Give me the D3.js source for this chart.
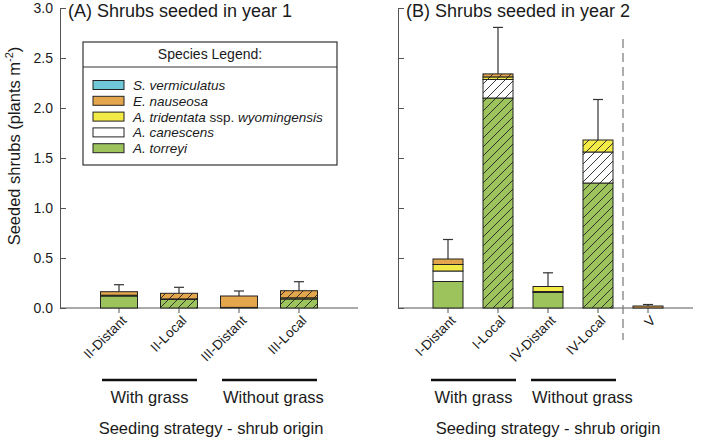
<!DOCTYPE html>
<html><head><meta charset="utf-8">
<script src="https://cdn.jsdelivr.net/npm/d3@7"></script>
<style>
body{margin:0;background:#fff}
text{font-family:"Liberation Sans",Arial,sans-serif;fill:#1a1a1a}
</style></head>
<body><svg id="c" width="701" height="442"></svg>
<script>
// ---- data ----
const speciesNames = ["S. vermiculatus","E. nauseosa","A. tridentata ssp. wyomingensis","A. canescens","A. torreyi"];
const speciesKeys  = ["verm","naus","trid","cane","torr"];
const speciesColors = ["#6ec8d8","#e3a64c","#f2ea45","#ffffff","#9cc35c"];
const stackOrder = ["torr","cane","trid","naus","verm"]; // bottom -> top

const cats1 = ["II-Distant","II-Local","III-Distant","III-Local"];
const torr1 = [0.12, 0.085, 0.006, 0.09];
const cane1 = [0, 0, 0, 0];
const trid1 = [0.008, 0.006, 0, 0.012];
const naus1 = [0.035, 0.056, 0.114, 0.071];
const verm1 = [0, 0, 0, 0];
const err1  = [0.07, 0.06, 0.05, 0.09];
const local1 = [false, true, false, true];

const cats2 = ["I-Distant","I-Local","IV-Distant","IV-Local","V"];
const torr2 = [0.265, 2.10, 0.155, 1.25, 0];
const cane2 = [0.105, 0.185, 0.01, 0.31, 0];
const trid2 = [0.065, 0.026, 0.05, 0.12, 0];
const naus2 = [0.055, 0.03, 0, 0, 0.02];
const verm2 = [0, 0, 0, 0, 0];
const err2  = [0.195, 0.465, 0.137, 0.405, 0.015];
const local2 = [false, true, false, true, false];

const yTicks = [0, 0.5, 1.0, 1.5, 2.0, 2.5, 3.0];
const groupNames = ["With grass","Without grass"];

// ---- chart ----
const svg = d3.select("#c");
const y = d3.scaleLinear().domain([0,3]).range([308,8]);

// hatch patterns
const defs = svg.append("defs");
speciesKeys.forEach((k,i)=>{
  const p = defs.append("pattern").attr("id","h-"+k).attr("patternUnits","userSpaceOnUse")
    .attr("width",9).attr("height",9);
  p.append("rect").attr("width",9).attr("height",9).attr("fill",speciesColors[i]);
  p.append("path").attr("d","M-2,2L2,-2M0,9L9,0M7,11L11,7").attr("stroke","#222").attr("stroke-width",0.9);
});
const colorOf = k => speciesColors[speciesKeys.indexOf(k)];

function panel(cfg){
  const g = svg.append("g");
  const rows = cfg.cats.map((c,i)=>({cat:c, torr:cfg.torr[i], cane:cfg.cane[i], trid:cfg.trid[i], naus:cfg.naus[i], verm:cfg.verm[i], err:cfg.err[i], local:cfg.local[i]}));
  const x = d3.scalePoint().domain(cfg.cats).range(cfg.centers);
  const bw = cfg.bw;
  const stacked = d3.stack().keys(stackOrder)(rows);

  // y axis
  const ax = g.append("g").attr("transform",`translate(${cfg.axisX},0)`)
    .call(d3.axisLeft(y).tickValues(yTicks).tickFormat(cfg.yLabels ? d3.format(".1f") : "")
      .tickSizeInner(-6).tickSizeOuter(0).tickPadding(7));
  ax.selectAll("path,line").attr("stroke","#555").attr("stroke-width",1);
  ax.selectAll("text").attr("font-size",14).attr("fill","#222").style("font-family",'"Liberation Sans",Arial,sans-serif');

  // baseline
  g.append("line").attr("x1",cfg.axisX).attr("x2",cfg.axisEnd).attr("y1",y(0)).attr("y2",y(0))
    .attr("stroke","#555").attr("stroke-width",1);
  // x ticks
  g.selectAll(".xt").data(cfg.cats).enter().append("line")
    .attr("x1",d=>x(d)).attr("x2",d=>x(d)).attr("y1",y(0)).attr("y2",y(0)+5)
    .attr("stroke","#555");
  // x labels
  g.selectAll(".xl").data(cfg.cats).enter().append("text")
    .attr("transform",d=>`translate(${x(d)+5},${y(0)+10}) rotate(-45)`)
    .attr("text-anchor","end").attr("dy","0.35em").attr("font-size",13.5).attr("fill","#222")
    .text(d=>d);

  // error bars (drawn before bars)
  rows.forEach(r=>{
    const tot = r.torr+r.cane+r.trid+r.naus+r.verm;
    const cx = x(r.cat);
    g.append("line").attr("x1",cx).attr("x2",cx).attr("y1",y(tot)).attr("y2",y(tot+r.err)).attr("stroke","#333").attr("stroke-width",1.2);
    g.append("line").attr("x1",cx-5).attr("x2",cx+5).attr("y1",y(tot+r.err)).attr("y2",y(tot+r.err)).attr("stroke","#333").attr("stroke-width",1.2);
  });

  // stacked bars
  stacked.forEach(layer=>{
    const k = layer.key;
    g.selectAll(".s-"+k).data(layer.filter(d=>d[1]-d[0]>0)).enter().append("rect")
      .attr("x",d=>x(d.data.cat)-bw/2).attr("width",bw)
      .attr("y",d=>y(d[1])).attr("height",d=>y(d[0])-y(d[1]))
      .attr("fill",d=>d.data.local ? `url(#h-${k})` : colorOf(k))
      .attr("stroke","#222").attr("stroke-width",1);
  });

  // title
  g.append("text").attr("x",cfg.axisX+8).attr("y",17).attr("font-size",18).attr("fill","#111").text(cfg.title);

  // groups
  cfg.groups.forEach((grp,gi)=>{
    const x1 = x(grp[0])-17, x2 = x(grp[grp.length-1])+18;
    g.append("line").attr("x1",x1).attr("x2",x2).attr("y1",380).attr("y2",380).attr("stroke","#111").attr("stroke-width",2.5);
    const t = g.append("text").attr("y",403).attr("font-size",16.5).attr("fill","#111").text(groupNames[gi]);
    if(gi===0) t.attr("x",(x1+x2)/2).attr("text-anchor","middle");
    else t.attr("x",x1+1).attr("text-anchor","start");
  });
  g.append("text").attr("x",cfg.xTitleX).attr("y",434).attr("text-anchor","middle").attr("font-size",16.5).attr("fill","#111")
    .text("Seeding strategy - shrub origin");

  if(cfg.sep){
    const sx = (x(cfg.cats[cfg.cats.length-2])+x(cfg.cats[cfg.cats.length-1]))/2;
    g.append("line").attr("x1",sx).attr("x2",sx).attr("y1",39).attr("y2",340)
      .attr("stroke","#777").attr("stroke-width",1.2).attr("stroke-dasharray","9,5");
  }
  return g;
}

panel({cats:cats1, torr:torr1, cane:cane1, trid:trid1, naus:naus1, verm:verm1, err:err1, local:local1,
  centers:[119,299], bw:37, axisX:60, axisEnd:358, yLabels:true, title:"(A) Shrubs seeded in year 1",
  groups:[["II-Distant","II-Local"],["III-Distant","III-Local"]], xTitleX:211, sep:false});
panel({cats:cats2, torr:torr2, cane:cane2, trid:trid2, naus:naus2, verm:verm2, err:err2, local:local2,
  centers:[448,648], bw:30, axisX:398, axisEnd:693, yLabels:false, title:"(B) Shrubs seeded in year 2",
  groups:[["I-Distant","I-Local"],["IV-Distant","IV-Local"]], xTitleX:548, sep:true});

// y axis title
const yt = svg.append("text").attr("transform","translate(20,146) rotate(-90)").attr("text-anchor","middle")
  .attr("font-size",16.5).attr("fill","#111");
yt.append("tspan").text("Seeded shrubs (plants m");
yt.append("tspan").attr("font-size",11).attr("dy",-7).text("-2");
yt.append("tspan").attr("dy",7).text(")");

// legend
const lg = svg.append("g");
lg.append("rect").attr("x",83).attr("y",42).attr("width",254).attr("height",123).attr("fill","#fff").attr("stroke","#333").attr("stroke-width",1.2);
lg.append("line").attr("x1",83).attr("x2",337).attr("y1",67).attr("y2",67).attr("stroke","#333").attr("stroke-width",1.2);
lg.append("text").attr("x",210).attr("y",59).attr("text-anchor","middle").attr("font-size",14).text("Species Legend:");
speciesNames.forEach((n,i)=>{
  const cy = 85 + i*15.8;
  lg.append("rect").attr("x",93).attr("y",cy-4.5).attr("width",31).attr("height",9)
    .attr("fill",speciesColors[i]).attr("stroke","#222").attr("stroke-width",1);
  const t = lg.append("text").attr("x",133).attr("y",cy+5).attr("font-size",13.5);
  const parts = n.split(" ssp. ");
  t.append("tspan").attr("font-style","italic").text(parts[0]);
  if(parts.length>1){
    t.append("tspan").text(" ssp. ");
    t.append("tspan").attr("font-style","italic").text(parts[1]);
  }
});
</script>
</body></html>
